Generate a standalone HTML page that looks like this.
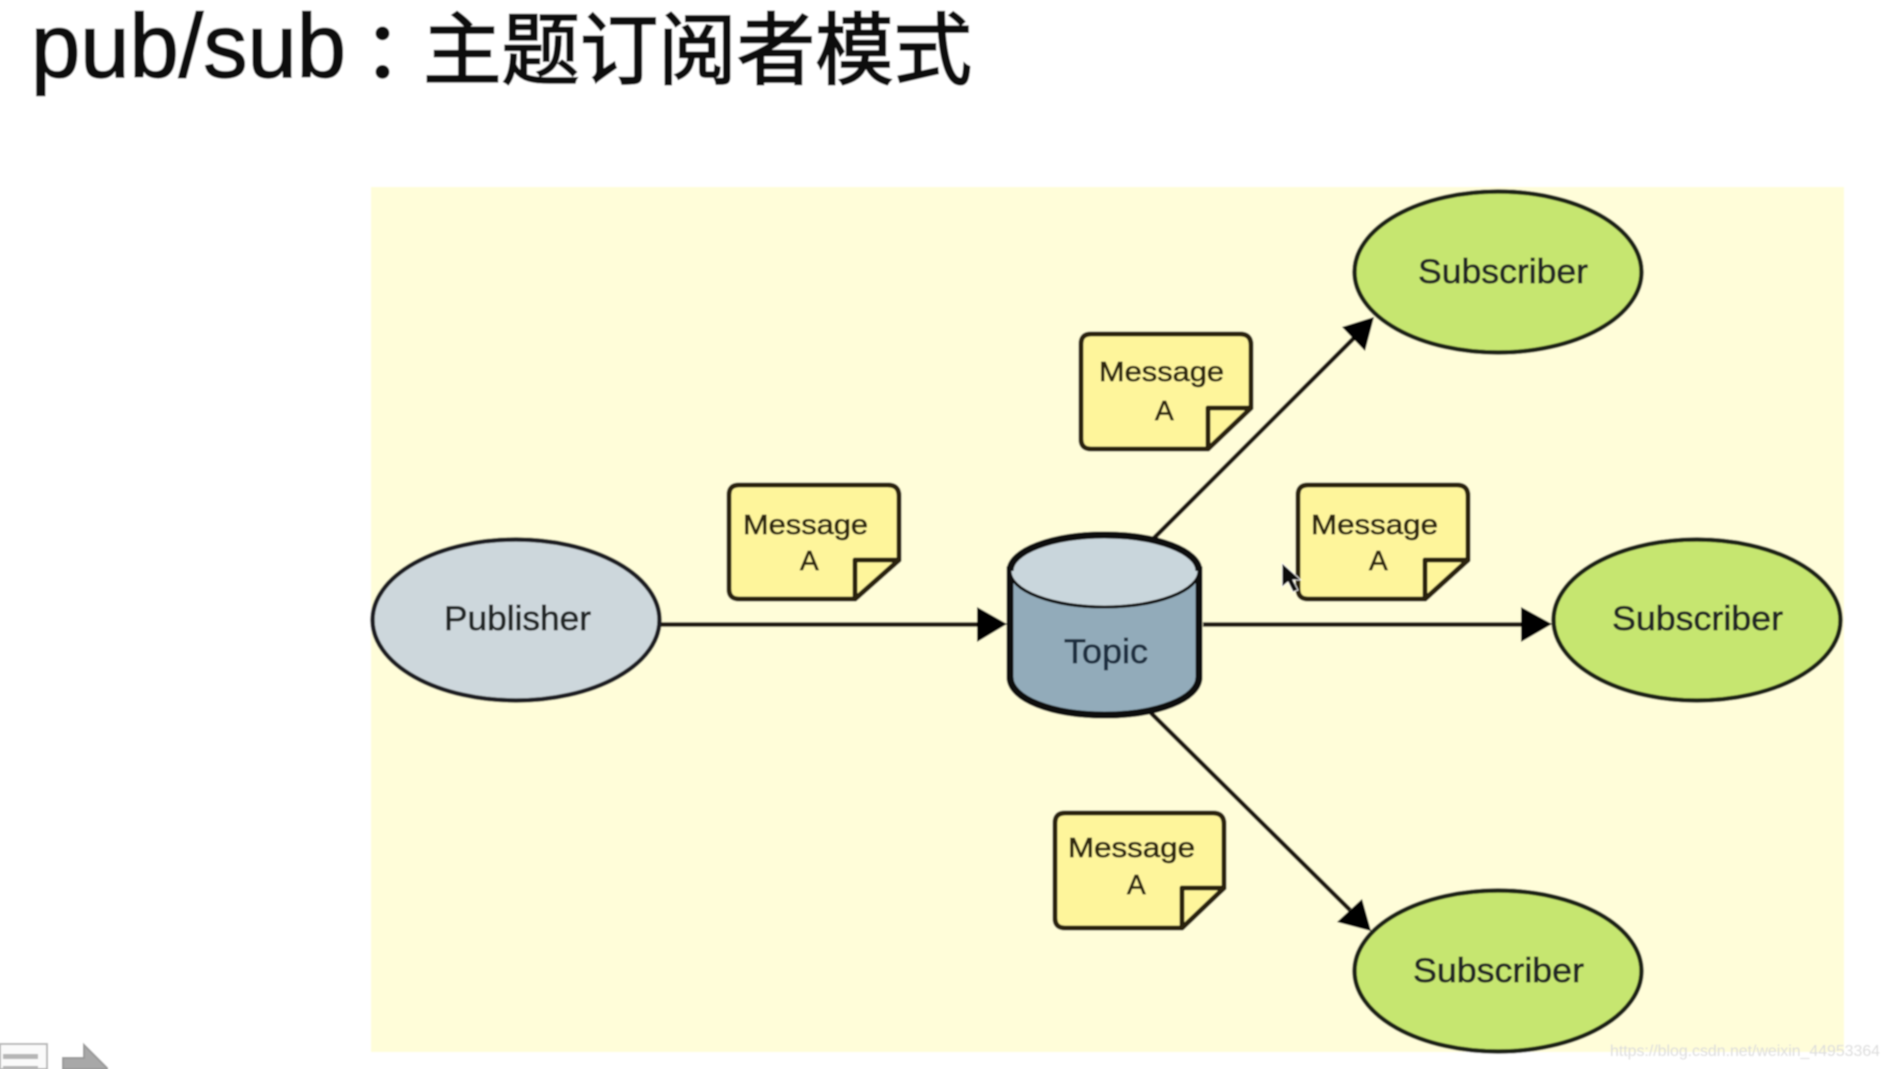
<!DOCTYPE html>
<html lang="zh">
<head>
<meta charset="utf-8">
<title>pub/sub</title>
<style>
html,body{margin:0;padding:0;background:#fff;width:1890px;height:1069px;overflow:hidden}
svg{display:block;position:absolute;left:0;top:0}
.t{font-family:"Liberation Sans","Noto Sans CJK SC",sans-serif}
</style>
</head>
<body>
<svg width="1890" height="1069" viewBox="0 0 1890 1069" xmlns="http://www.w3.org/2000/svg">
<defs><filter id="b" x="-2%" y="-2%" width="104%" height="104%"><feGaussianBlur stdDeviation="0.9"/></filter></defs>
<g filter="url(#b)">
<rect width="1890" height="1069" fill="#fff"/>
<!-- title -->
<text class="t" x="31" y="77" font-size="90" fill="#111" stroke="#111" stroke-width="1.500" textLength="315" lengthAdjust="spacingAndGlyphs">pub/sub</text>
<text x="363" y="77" font-size="78" fill="#111" stroke="#111" stroke-width="2" font-family="'Noto Sans CJK SC',sans-serif">：</text>
<text x="423" y="78" font-size="79" fill="#111" stroke="#111" stroke-width="1.800" font-family="'Noto Sans CJK SC',sans-serif" textLength="549" lengthAdjust="spacingAndGlyphs">主题订阅者模式</text>
<!-- panel -->
<rect x="371" y="187" width="1473" height="865" fill="#fffdd9"/>
<!-- connectors -->
<g stroke="#1a140c" stroke-width="4.500" fill="none">
<line x1="660" y1="624.500" x2="982" y2="624.500"/>
<line x1="1203" y1="624.500" x2="1525" y2="624.500"/>
<line x1="1154" y1="538" x2="1355" y2="337"/>
<line x1="1151" y1="713" x2="1350" y2="910"/>
</g>
<g fill="#000">
<polygon points="977,607 977,642 1007,624"/>
<polygon points="1521,607 1521,642 1552,624"/>
<polygon points="1342,327 1365,351 1374,317"/>
<polygon points="1337,922 1362,899 1371,931"/>
</g>
<!-- ellipses -->
<g stroke="#1d2415" stroke-width="4.500">
<ellipse cx="516" cy="620" rx="143.500" ry="80.500" fill="#cdd7dc" stroke="#1a1f20"/>
<ellipse cx="1498" cy="272" rx="143.500" ry="80.500" fill="#c6e66f"/>
<ellipse cx="1697" cy="620" rx="143.500" ry="80.500" fill="#c6e66f"/>
<ellipse cx="1498" cy="971" rx="143.500" ry="80.500" fill="#c6e66f"/>
</g>
<!-- cylinder -->
<path d="M1010 570 V677 C1010 699 1052 715 1104.500 715 C1157 715 1199 699 1199 677 V570 Z" fill="#92abba" stroke="#0c0e0e" stroke-width="7"/>
<ellipse cx="1104.500" cy="571" rx="94.500" ry="36" fill="#c9d6dc" stroke="#0c0e0e" stroke-width="3"/>
<path d="M1010 571 C1010 551 1052 535 1104.500 535 C1157 535 1199 551 1199 571" fill="none" stroke="#0c0e0e" stroke-width="7"/>
<!-- notes -->
<g stroke="#2a210b" stroke-width="5" stroke-linejoin="round">
<path d="M739 485 H888 Q899 485 899 496 V560 L855 599 H739 Q729 599 729 589 V495 Q729 485 739 485 Z" fill="#fef59b"/>
<path d="M855 599 V560 H899 Z" fill="#fef59b"/>
<path d="M1091 334 H1240 Q1251 334 1251 345 V408 L1208 449 H1091 Q1081 449 1081 439 V344 Q1081 334 1091 334 Z" fill="#fef59b"/>
<path d="M1208 449 V408 H1251 Z" fill="#fef59b"/>
<path d="M1308 485 H1457 Q1468 485 1468 496 V560 L1425 599 H1308 Q1298 599 1298 589 V495 Q1298 485 1308 485 Z" fill="#fef59b"/>
<path d="M1425 599 V560 H1468 Z" fill="#fef59b"/>
<path d="M1065 813 H1213 Q1224 813 1224 824 V888 L1182 928 H1065 Q1055 928 1055 918 V823 Q1055 813 1065 813 Z" fill="#fef59b"/>
<path d="M1182 928 V888 H1224 Z" fill="#fef59b"/>
</g>
<!-- labels -->
<g class="t" font-size="34" fill="#222626" stroke="#222626" stroke-width="0.700">
<text x="444" y="630" textLength="147" lengthAdjust="spacingAndGlyphs">Publisher</text>
<text x="1418" y="283" textLength="170" lengthAdjust="spacingAndGlyphs">Subscriber</text>
<text x="1612" y="630" textLength="171" lengthAdjust="spacingAndGlyphs">Subscriber</text>
<text x="1413" y="982" textLength="171" lengthAdjust="spacingAndGlyphs">Subscriber</text>
<text x="1064" y="663" fill="#1e2f40" stroke="#1e2f40" textLength="84" lengthAdjust="spacingAndGlyphs">Topic</text>
</g>
<g class="t" font-size="28" fill="#2e2810" stroke="#2e2810" stroke-width="0.700">
<text x="743" y="534" textLength="125" lengthAdjust="spacingAndGlyphs">Message</text>
<text x="800" y="570">A</text>
<text x="1099" y="381" textLength="125" lengthAdjust="spacingAndGlyphs">Message</text>
<text x="1155" y="420">A</text>
<text x="1311" y="534" textLength="127" lengthAdjust="spacingAndGlyphs">Message</text>
<text x="1369" y="570">A</text>
<text x="1068" y="857" textLength="127" lengthAdjust="spacingAndGlyphs">Message</text>
<text x="1127" y="894">A</text>
</g>
<!-- cursor -->
<path d="M1282 563 V587 L1288 582 L1293 592 L1298 590 L1293 580 L1301 580 Z" fill="#111" stroke="#fff" stroke-width="0.800"/>
<!-- bottom-left widgets -->
<path d="M0 1044 H47 V1069 H0 Z" fill="#fafafa" stroke="#b8b8b8" stroke-width="2"/>
<rect x="3" y="1054" width="35" height="5" fill="#b5b5b5"/>
<rect x="3" y="1066" width="35" height="3" fill="#b5b5b5"/>
<path d="M63 1069 V1058 H84 V1045 L107 1068 V1069 Z" fill="#a8a8a8" stroke="#999" stroke-width="2"/>
<!-- watermark -->
<text class="t" x="1610" y="1056" font-size="16" fill="#dcdcdc" textLength="270" lengthAdjust="spacingAndGlyphs">https://blog.csdn.net/weixin_44953364</text>
</g>
</svg>
</body>
</html>
